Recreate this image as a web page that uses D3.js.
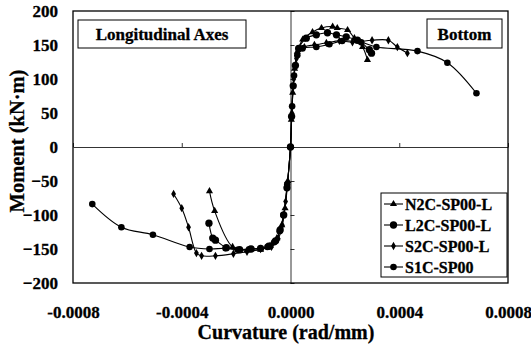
<!DOCTYPE html>
<html>
<head>
<meta charset="utf-8">
<script src="https://cdn.jsdelivr.net/npm/d3@7"></script>
<style>
  body { margin: 0; background: #fff; }
  text { font-family: "Liberation Serif", "Times New Roman", serif; font-weight: bold; fill: #000; stroke: #000; stroke-width: 0.3px; }
</style>
</head>
<body>
<div id="chart"></div>
<script>
// tick values
var xTicks = [-0.0008, -0.0004, 0, 0.0004, 0.0008];
var yTicks = [-200, -150, -100, -50, 0, 50, 100, 150, 200];

// N2C-SP00-L (triangles)
var n2cCurv = [-2.98e-4, -2.79e-4, -2.13e-4, -1.6e-4, -1.1e-4, -0.75e-4, -0.5e-4, -0.32e-4, -0.2e-4, -0.1e-4, 0,
  0.03e-4, 0.08e-4, 0.15e-4, 0.25e-4, 0.45e-4, 0.81e-4, 1.14e-4, 1.55e-4, 1.72e-4, 2.1e-4, 2.35e-4, 2.65e-4, 2.83e-4];
var n2cMom = [-65, -94, -147, -152, -151, -145, -134, -115, -90, -50, 0,
  40, 80, 115, 140, 158, 169, 175, 177, 175, 172, 160, 147, 128];

// L2C-SP00-L (large dots)
var l2cCurv = [-3.0e-4, -2.86e-4, -2.76e-4, -2.36e-4, -1.87e-4, -1.45e-4, -1.1e-4, -0.8e-4, -0.55e-4, -0.38e-4, -0.25e-4, -0.13e-4, 0,
  0.04e-4, 0.1e-4, 0.18e-4, 0.3e-4, 0.58e-4, 0.95e-4, 1.36e-4, 1.69e-4, 2.05e-4, 2.46e-4, 2.9e-4, 2.98e-4];
var l2cMom = [-112, -134, -137, -148, -151, -150, -149, -146, -138, -122, -100, -60, 0,
  45, 90, 120, 145, 160, 165, 168, 165, 162, 157, 143, 138];

// S2C-SP00-L (diamonds)
var s2cCurv = [-4.3e-4, -4.0e-4, -3.75e-4, -3.46e-4, -3.27e-4, -2.76e-4, -2.1e-4, -1.6e-4, -1.1e-4, -0.7e-4, -0.45e-4, -0.3e-4, -0.18e-4, 0,
  0.05e-4, 0.12e-4, 0.22e-4, 0.51e-4, 0.88e-4, 1.32e-4, 1.8e-4, 2.28e-4, 3.0e-4, 3.6e-4, 3.93e-4, 4.3e-4];
var s2cMom = [-69, -90, -118, -156, -160, -160, -157, -154, -150, -147, -135, -115, -80, 0,
  50, 100, 130, 147, 150, 153, 156, 154, 157, 157, 147, 138];

// S1C-SP00 (dots)
var s1cCurv = [-7.29e-4, -6.22e-4, -5.06e-4, -3.71e-4, -2.98e-4, -2.39e-4, -1.95e-4, -1.5e-4, -0.85e-4, -0.6e-4, -0.4e-4, -0.26e-4, -0.12e-4, 0,
  0.06e-4, 0.13e-4, 0.25e-4, 0.44e-4, 0.95e-4, 1.43e-4, 1.9e-4, 2.6e-4, 3.16e-4, 4.67e-4, 5.77e-4, 6.84e-4];
var s1cMom = [-84, -118, -129, -147, -150, -149, -151, -150, -147, -140, -124, -100, -55, 0,
  60, 105, 135, 145, 147, 151, 156, 154, 147, 141, 124, 79];

var seriesNames = ["N2C-SP00-L", "L2C-SP00-L", "S2C-SP00-L", "S1C-SP00"];

var w = 531, h = 347;
var pLeft = 73, pTop = 11, pRight = 508, pBottom = 283;

var svg = d3.select("#chart").append("svg")
  .attr("width", w).attr("height", h);

var x = d3.scaleLinear().domain([-0.0008, 0.0008]).range([pLeft, pRight]);
var y = d3.scaleLinear().domain([-200, 200]).range([pBottom, pTop]);

// plot border
svg.append("rect")
  .attr("x", pLeft).attr("y", pTop)
  .attr("width", pRight - pLeft).attr("height", pBottom - pTop)
  .attr("fill", "none").attr("stroke", "#000").attr("stroke-width", 1.3);

// zero lines with small ticks
var zx = svg.append("g").attr("transform", "translate(0," + y(0) + ")")
  .call(d3.axisTop(x).tickValues(xTicks).tickSize(4).tickSizeOuter(0).tickFormat(""));
var zy = svg.append("g").attr("transform", "translate(" + x(0) + ",0)")
  .call(d3.axisRight(y).tickValues(yTicks).tickSize(4).tickSizeOuter(0).tickFormat(""));
[zx, zy].forEach(function(g) {
  g.selectAll("path, line").attr("stroke", "#000").attr("stroke-width", 0.8);
});

// tick labels
var ax = svg.append("g").attr("transform", "translate(0," + pBottom + ")")
  .call(d3.axisBottom(x).tickValues(xTicks).tickSize(0).tickPadding(23)
    .tickFormat(function(d) { return d.toFixed(4); }));
var ay = svg.append("g").attr("transform", "translate(" + pLeft + ",0)")
  .call(d3.axisLeft(y).tickValues(yTicks).tickSize(0).tickPadding(15));
[ax, ay].forEach(function(g) {
  g.select(".domain").remove();
  g.selectAll("text").attr("font-size", "17px")
    .attr("font-family", "Liberation Serif").attr("font-weight", "bold");
});

// axis titles
svg.append("text")
  .attr("x", 286).attr("y", 339)
  .attr("text-anchor", "middle")
  .attr("font-size", "20px")
  .text("Curvature (rad/mm)");
svg.append("text")
  .attr("transform", "translate(24,141) rotate(-90)")
  .attr("text-anchor", "middle")
  .attr("font-size", "20.5px")
  .text("Moment (kN\u00b7m)");

// label boxes
function labelBox(x0, y0, bw, bh, txt) {
  svg.append("rect").attr("x", x0).attr("y", y0).attr("width", bw).attr("height", bh)
    .attr("fill", "#fff").attr("stroke", "#000").attr("stroke-width", 1);
  svg.append("text").attr("x", x0 + bw / 2).attr("y", y0 + bh / 2 + 6)
    .attr("text-anchor", "middle").attr("font-size", "17px").text(txt);
}
labelBox(78, 20, 168, 28, "Longitudinal Axes");
labelBox(427, 19, 75, 29, "Bottom");

// series
var series = [
  { name: seriesNames[0], c: n2cCurv, m: n2cMom, sym: d3.symbolTriangle, size: 22 },
  { name: seriesNames[1], c: l2cCurv, m: l2cMom, sym: d3.symbolCircle, size: 42 },
  { name: seriesNames[2], c: s2cCurv, m: s2cMom, sym: d3.symbolDiamond, size: 20 },
  { name: seriesNames[3], c: s1cCurv, m: s1cMom, sym: d3.symbolCircle, size: 34 }
];

var line = d3.line()
  .x(function(d) { return x(d[0]); })
  .y(function(d) { return y(d[1]); })
  .curve(d3.curveCatmullRom.alpha(0.5));

series.forEach(function(s) {
  var pts = s.c.map(function(c, i) { return [c, s.m[i]]; });
  svg.append("path").datum(pts)
    .attr("d", line)
    .attr("fill", "none").attr("stroke", "#000").attr("stroke-width", 1.1);
  svg.append("g").selectAll("path")
    .data(pts).enter().append("path")
    .attr("transform", function(d) { return "translate(" + x(d[0]) + "," + y(d[1]) + ")"; })
    .attr("d", d3.symbol().type(s.sym).size(s.size))
    .attr("fill", "#000");
});

// legend
var lg = svg.append("g");
lg.append("rect").attr("x", 381).attr("y", 193).attr("width", 126).attr("height", 84)
  .attr("fill", "#fff").attr("stroke", "#000").attr("stroke-width", 1);
series.forEach(function(s, i) {
  var ly = 204 + i * 21;
  lg.append("line").attr("x1", 384).attr("x2", 403).attr("y1", ly).attr("y2", ly)
    .attr("stroke", "#000").attr("stroke-width", 1.1);
  lg.append("path").attr("transform", "translate(393.5," + ly + ")")
    .attr("d", d3.symbol().type(s.sym).size(s.size)).attr("fill", "#000");
  lg.append("text").attr("x", 405).attr("y", ly + 5.5)
    .attr("font-size", "16px").text(s.name);
});
</script>
</body>
</html>
